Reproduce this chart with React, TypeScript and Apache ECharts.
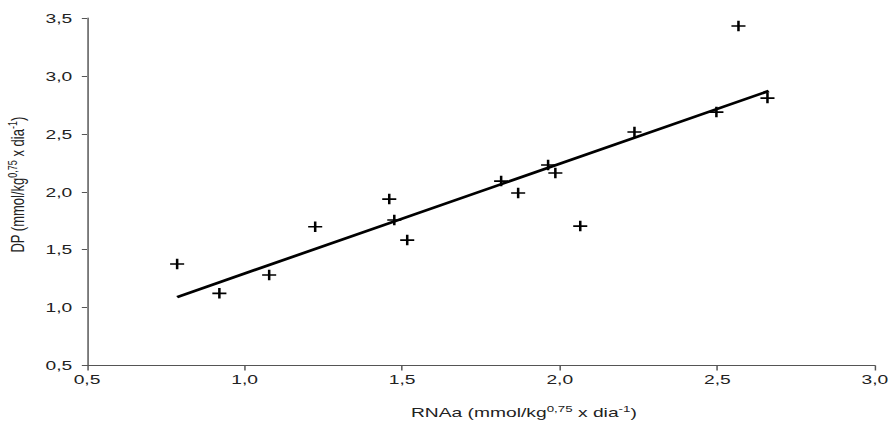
import React, { useEffect, useRef } from "react";
import * as echarts from "echarts";

const rnaa = [0.786, 0.92, 1.078, 1.224, 1.459, 1.475, 1.516, 1.814, 1.868, 1.963, 1.986, 2.065, 2.237, 2.497, 2.567, 2.659];
const dp = [1.376, 1.123, 1.281, 1.698, 1.937, 1.756, 1.583, 2.092, 1.989, 2.231, 2.162, 1.704, 2.516, 2.688, 3.431, 2.809];
const trendX = [0.786, 2.663];
const trendY = [1.091, 2.87];
const xTicks = { min: 0.5, max: 3.0, interval: 0.5 };
const yTicks = { min: 0.5, max: 3.5, interval: 0.5 };

const plusPath = "path://M41,0H59V42H100V58H59V100H41V58H0V42H41Z";

const fmt = (v: number) => v.toFixed(1).replace(".", ",");

// The reference is horizontally stretched; draw narrower and stretch with CSS.
const STRETCH = 1.48;
const W = 892;
const H = 423;

export default function App() {
  const ref = useRef<HTMLDivElement>(null);
  useEffect(() => {
    if (!ref.current) return;
    const chart = echarts.init(ref.current, undefined, { renderer: "svg" });
    const font = "'Liberation Sans', Arial, sans-serif";
    const nameRich = {
      m: { fontSize: 13, fontFamily: font, color: "#222", lineHeight: 16 },
      s: { fontSize: 9, fontFamily: font, color: "#222", verticalAlign: "top" as const, lineHeight: 9, padding: [0, 0, 6, 0] },
    };
    chart.setOption({
      animation: false,
      backgroundColor: "#fff",
      grid: {
        left: 87 / STRETCH,
        right: 17.5 / STRETCH,
        top: 18,
        bottom: 57.5,
        containLabel: false,
        outerBoundsMode: "none",
      },
      xAxis: {
        type: "value",
        min: xTicks.min,
        max: xTicks.max,
        interval: xTicks.interval,
        splitLine: { show: false },
        axisLine: { show: true, lineStyle: { color: "#555", width: 1 } },
        axisTick: { show: true, length: 5, lineStyle: { color: "#555" } },
        axisLabel: { formatter: fmt, color: "#222", fontSize: 13, fontFamily: font, margin: 7 },
        name: "{m|RNAa (mmol/kg}{s|0,75}{m| x dia}{s|-1}{m|)}",
        nameLocation: "middle",
        nameGap: 39,
        nameTextStyle: { rich: nameRich, padding: [0, 0, 0, 58] },
      },
      yAxis: {
        type: "value",
        min: yTicks.min,
        max: yTicks.max,
        interval: yTicks.interval,
        splitLine: { show: false },
        axisLine: { show: true, lineStyle: { color: "#555", width: 1 } },
        axisTick: { show: true, length: 3.5, lineStyle: { color: "#555" } },
        axisLabel: { formatter: fmt, color: "#222", fontSize: 13, fontFamily: font, margin: 10 },
        name: "{m|DP (mmol/kg}{s|0,75}{m| x dia}{s|-1}{m|)}",
        nameLocation: "middle",
        nameGap: 39,
        nameTextStyle: { rich: nameRich, padding: [0, 0, 0, 14] },
      },
      series: [
        {
          type: "line",
          data: trendX.map((x, i) => [x, trendY[i]]),
          showSymbol: false,
          symbol: "none",
          lineStyle: { color: "#000", width: 2.6 },
          z: 2,
        },
        {
          type: "scatter",
          data: rnaa.map((x, i) => [x, dp[i]]),
          symbol: plusPath,
          symbolSize: [9.5, 10.5],
          itemStyle: { color: "#000", opacity: 1 },
          z: 3,
        },
      ],
    });
    return () => chart.dispose();
  }, []);
  return (
    <div style={{ position: "absolute", left: 0, top: 0, width: W, height: H, overflow: "hidden", background: "#fff" }}>
      <div
        ref={ref}
        style={{
          width: W / STRETCH,
          height: H,
          transform: `scaleX(${STRETCH})`,
          transformOrigin: "0 0",
        }}
      />
    </div>
  );
}
